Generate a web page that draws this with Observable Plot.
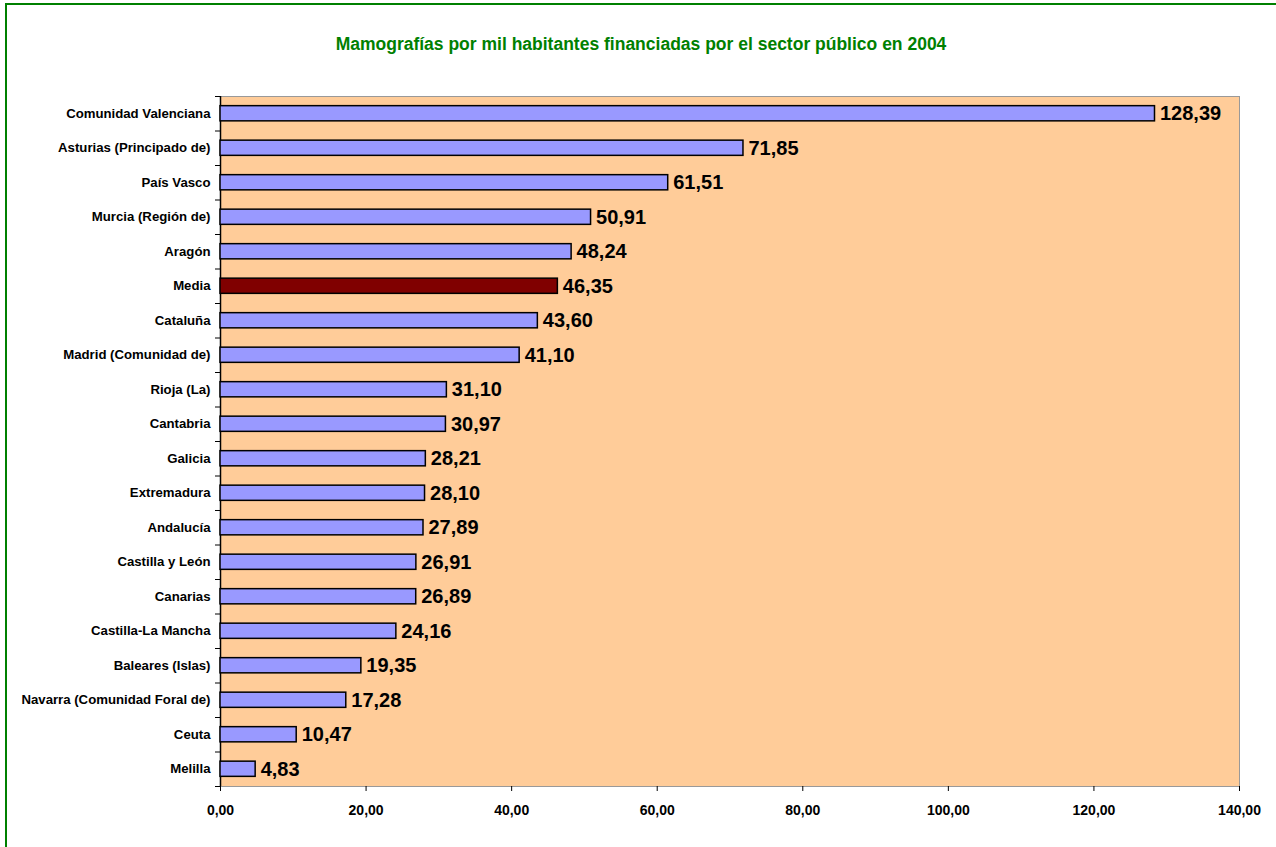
<!DOCTYPE html>
<html>
<head>
<meta charset="utf-8">
<script src="https://cdn.jsdelivr.net/npm/d3@7"></script>
<script src="https://cdn.jsdelivr.net/npm/@observablehq/plot@0.6"></script>
<style>
  html, body { margin: 0; padding: 0; background: #fff; overflow: hidden; }
  #wrap { position: relative; width: 1276px; height: 847px; }
  #border { position: absolute; left: 5px; top: 3px; width: 1300px; height: 900px; border: 2px solid #008000; box-sizing: border-box; }
  #title { position: absolute; left: 0; width: 1282px; top: 34px; text-align: center; color: #008000;
           font: bold 17.5px "Liberation Sans", Arial, sans-serif; }
  #chart { position: absolute; left: 0; top: 0; }
</style>
</head>
<body>
<div id="wrap">
  <div id="border"></div>
  <div id="title">Mamografías por mil habitantes financiadas por el sector público en 2004</div>
  <div id="chart"></div>
</div>
<script>
const categories = ["Comunidad Valenciana", "Asturias (Principado de)", "País Vasco", "Murcia (Región de)", "Aragón", "Media", "Cataluña", "Madrid (Comunidad de)", "Rioja (La)", "Cantabria", "Galicia", "Extremadura", "Andalucía", "Castilla y León", "Canarias", "Castilla-La Mancha", "Baleares (Islas)", "Navarra (Comunidad Foral de)", "Ceuta", "Melilla"];
const values = [128.39, 71.85, 61.51, 50.91, 48.24, 46.35, 43.60, 41.10, 31.10, 30.97, 28.21, 28.10, 27.89, 26.91, 26.89, 24.16, 19.35, 17.28, 10.47, 4.83];
const xTicks = [0, 20, 40, 60, 80, 100, 120, 140];
const highlight = "Media";

const data = categories.map((c, i) => ({name: c, value: values[i]}));
const fmt = v => v.toFixed(2).replace(".", ",");
const font = '"Liberation Sans", Arial, sans-serif';

const W = 1276, H = 847, mL = 220, mR = 37, mT = 96, mB = 61;
const step = (H - mT - mB) / categories.length;

const chart = Plot.plot({
  width: W, height: H,
  marginLeft: mL, marginRight: mR, marginTop: mT, marginBottom: mB,
  style: {fontFamily: font, fontWeight: "bold", color: "#000", background: "transparent", overflow: "visible"},
  x: {domain: [0, 140], ticks: xTicks, tickFormat: fmt, label: null},
  y: {domain: categories, paddingInner: 0.56, paddingOuter: 0.28, round: false, label: null},
  marks: [
    Plot.frame({fill: "#FFCC99", stroke: "#999999"}),
    Plot.ruleX([0], {stroke: "#000", strokeWidth: 1.5}),
    Plot.axisX({ticks: xTicks, tickFormat: fmt, tickSize: 5, tickPadding: 14, fontSize: 14, line: true, stroke: "#000", label: null}),
    Plot.axisY({tickSize: 0, tickPadding: 10, fontSize: 13.2, label: null}),
    Plot.axisY({tickSize: 5, text: null, dy: -step / 2, label: null}),
    Plot.axisY({tickSize: 5, text: null, dy: step / 2, label: null, filter: d => d === categories[categories.length - 1]}),
    Plot.barX(data, {y: "name", x: "value", fill: d => d.name === highlight ? "#800000" : "#9999FF", stroke: "#000", strokeWidth: 1.5}),
    Plot.text(data, {y: "name", x: "value", text: d => fmt(d.value), textAnchor: "start", dx: 5, fontSize: 20, fontWeight: "bold", fill: "#000"})
  ]
});
document.getElementById("chart").appendChild(chart);
</script>
</body>
</html>
